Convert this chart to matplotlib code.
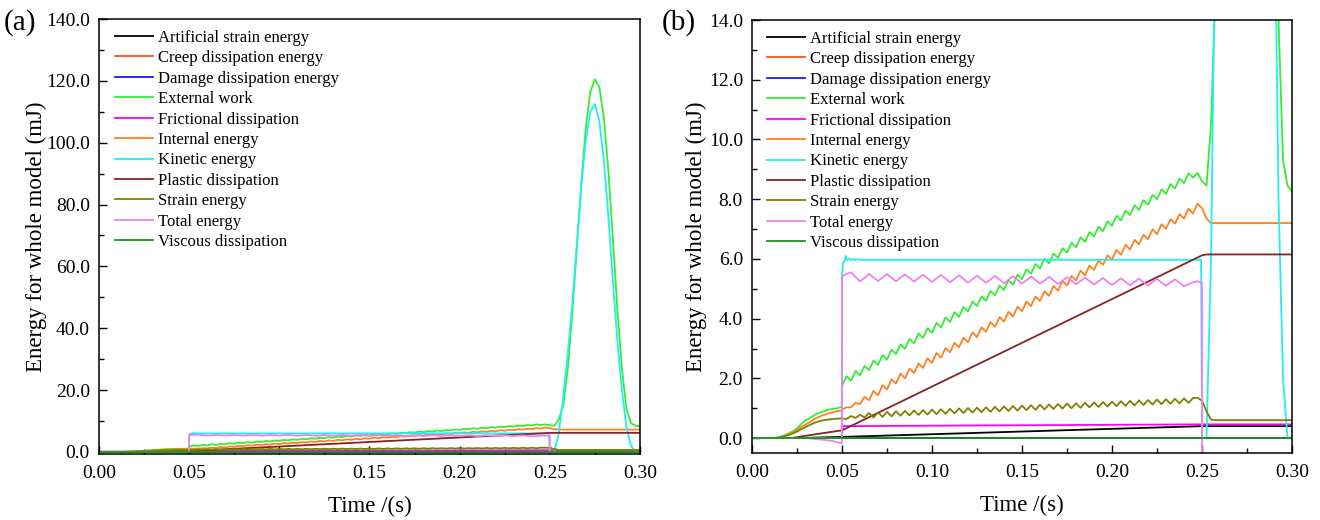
import matplotlib
matplotlib.use("Agg")
import matplotlib.pyplot as plt
from matplotlib.ticker import MultipleLocator, FormatStrFormatter

plt.rcParams['font.family'] = ['Liberation Serif', 'DejaVu Serif']
plt.rcParams['mathtext.fontset'] = 'stix'

# ---------------- data (time in s, energy in mJ) ----------------
t_pre = [0.0, 0.0125, 0.0150, 0.0175, 0.0200, 0.0225, 0.0250, 0.0275, 0.0300,
         0.0325, 0.0350, 0.0375, 0.0400, 0.0425, 0.0450, 0.0475, 0.0499]
t_mid = [0.0500, 0.0525, 0.0550, 0.0575, 0.0600, 0.0625, 0.0650, 0.0675, 0.0700,
         0.0725, 0.0750, 0.0775, 0.0800, 0.0825, 0.0850, 0.0875, 0.0900, 0.0925,
         0.0950, 0.0975, 0.1000, 0.1025, 0.1050, 0.1075, 0.1100, 0.1125, 0.1150,
         0.1175, 0.1200, 0.1225, 0.1250, 0.1275, 0.1300, 0.1325, 0.1350, 0.1375,
         0.1400, 0.1425, 0.1450, 0.1475, 0.1500, 0.1525, 0.1550, 0.1575, 0.1600,
         0.1625, 0.1650, 0.1675, 0.1700, 0.1725, 0.1750, 0.1775, 0.1800, 0.1825,
         0.1850, 0.1875, 0.1900, 0.1925, 0.1950, 0.1975, 0.2000, 0.2025, 0.2050,
         0.2075, 0.2100, 0.2125, 0.2150, 0.2175, 0.2200, 0.2225, 0.2250, 0.2275,
         0.2300, 0.2325, 0.2350, 0.2375, 0.2400, 0.2425, 0.2450, 0.2475, 0.2500]
t_post = [0.2525, 0.2550, 0.2575, 0.2600, 0.2625, 0.2650, 0.2675, 0.2700, 0.2725,
          0.2750, 0.2775, 0.2800, 0.2825, 0.2850, 0.2875, 0.2900, 0.2925, 0.2950,
          0.2975, 0.3000]

# External work
ext_pre = [0, 0, 0.03, 0.08, 0.15, 0.22, 0.33, 0.48, 0.60, 0.68, 0.78, 0.85,
           0.90, 0.95, 0.98, 1.00, 1.05]
ext_mid = [1.75, 2.07, 1.92, 2.25, 2.10, 2.42, 2.27, 2.60, 2.45, 2.78, 2.63, 2.96,
           2.81, 3.14, 2.99, 3.32, 3.17, 3.50, 3.35, 3.68, 3.53, 3.86, 3.71, 4.04,
           3.89, 4.22, 4.06, 4.39, 4.24, 4.57, 4.42, 4.75, 4.60, 4.93, 4.78, 5.11,
           4.96, 5.29, 5.14, 5.47, 5.32, 5.65, 5.50, 5.83, 5.68, 6.01, 5.85, 6.18,
           6.03, 6.36, 6.21, 6.54, 6.39, 6.72, 6.57, 6.90, 6.75, 7.08, 6.93, 7.26,
           7.11, 7.44, 7.29, 7.62, 7.47, 7.80, 7.64, 7.97, 7.82, 8.15, 8.00, 8.33,
           8.18, 8.51, 8.36, 8.69, 8.54, 8.87, 8.72, 8.88, 8.60]
ext_post = [8.45, 10.5, 15.0, 27.0, 45.0, 66.0, 87.0, 105.0, 116.5, 120.5, 118.0,
            108.0, 91.0, 69.0, 46.0, 27.0, 14.0, 9.3, 8.45, 8.25]

# Internal energy
int_pre = [0, 0, 0.02, 0.06, 0.12, 0.18, 0.27, 0.38, 0.46, 0.55, 0.65, 0.72,
           0.78, 0.83, 0.87, 0.90, 0.93]
int_mid = [0.95, 1.03, 1.03, 1.18, 1.14, 1.38, 1.27, 1.58, 1.43, 1.77, 1.63, 1.97,
           1.83, 2.16, 2.00, 2.33, 2.18, 2.50, 2.35, 2.67, 2.52, 2.85, 2.69, 3.02,
           2.87, 3.19, 3.04, 3.36, 3.21, 3.54, 3.38, 3.71, 3.56, 3.88, 3.73, 4.05,
           3.90, 4.23, 4.07, 4.40, 4.25, 4.57, 4.42, 4.74, 4.59, 4.92, 4.76, 5.09,
           4.94, 5.26, 5.11, 5.43, 5.28, 5.61, 5.45, 5.78, 5.63, 5.95, 5.80, 6.12,
           5.97, 6.30, 6.14, 6.47, 6.32, 6.64, 6.49, 6.81, 6.66, 6.99, 6.83, 7.16,
           7.01, 7.33, 7.18, 7.50, 7.35, 7.68, 7.52, 7.85, 7.70]
int_post = [7.35, 7.20, 7.20, 7.20, 7.20, 7.20, 7.20, 7.20, 7.20, 7.20, 7.20,
            7.20, 7.20, 7.20, 7.20, 7.20, 7.20, 7.20, 7.20, 7.20]

# Strain energy
str_pre = [0, 0, 0.02, 0.05, 0.10, 0.15, 0.22, 0.30, 0.38, 0.45, 0.52, 0.57,
           0.60, 0.62, 0.64, 0.65, 0.66]
str_mid = [0.66, 0.64, 0.74, 0.675, 0.78, 0.695, 0.84, 0.69, 0.86, 0.71, 0.88, 0.73,
           0.90, 0.747, 0.913, 0.76, 0.927, 0.774, 0.94, 0.787, 0.954, 0.80, 0.967,
           0.814, 0.98, 0.827, 0.994, 0.841, 1.007, 0.854, 1.021, 0.867, 1.034,
           0.881, 1.047, 0.894, 1.061, 0.908, 1.074, 0.921, 1.088, 0.934, 1.101,
           0.948, 1.115, 0.961, 1.128, 0.975, 1.141, 0.988, 1.155, 1.001, 1.168,
           1.015, 1.182, 1.028, 1.195, 1.042, 1.208, 1.055, 1.222, 1.069, 1.235,
           1.082, 1.249, 1.095, 1.262, 1.109, 1.275, 1.122, 1.289, 1.136, 1.302,
           1.149, 1.316, 1.162, 1.329, 1.176, 1.342, 1.35, 1.25]
str_post = [0.90, 0.62, 0.60, 0.60, 0.60, 0.60, 0.60, 0.60, 0.60, 0.60, 0.60,
            0.60, 0.60, 0.60, 0.60, 0.60, 0.60, 0.60, 0.60, 0.60]

# Total energy
tot_t_pre = [0.0, 0.030, 0.035, 0.040, 0.045, 0.048, 0.0499]
tot_pre = [0, 0, -0.03, -0.06, -0.10, -0.15, -0.18]
tot_mid = [5.42, 5.50, 5.55, 5.40, 5.25, 5.36, 5.50, 5.38, 5.26, 5.38, 5.49, 5.37,
           5.25, 5.37, 5.48, 5.36, 5.24, 5.36, 5.47, 5.35, 5.23, 5.35, 5.46, 5.34,
           5.22, 5.33, 5.45, 5.33, 5.21, 5.32, 5.44, 5.32, 5.20, 5.31, 5.43, 5.31,
           5.19, 5.30, 5.42, 5.30, 5.18, 5.29, 5.41, 5.29, 5.17, 5.28, 5.40, 5.28,
           5.16, 5.27, 5.39, 5.27, 5.15, 5.26, 5.37, 5.26, 5.14, 5.25, 5.36, 5.24,
           5.13, 5.24, 5.35, 5.23, 5.12, 5.23, 5.34, 5.22, 5.11, 5.22, 5.33, 5.21,
           5.10, 5.21, 5.32, 5.20, 5.09, 5.15, 5.22, 5.25, 5.20]
tot_t_post = [0.2500, 0.3000]
tot_post = [-2.0, -2.0]

# Kinetic energy
kin_t = [0.0, 0.0499, 0.0500, 0.0505, 0.0510, 0.0515, 0.0520, 0.0525, 0.0530,
         0.0540, 0.0550, 0.0560, 0.0570, 0.0580, 0.0600, 0.2495, 0.2500]
kin_v = [0, 0, 5.45, 5.85, 5.90, 5.95, 6.10, 5.98, 5.96, 6.02, 5.95, 6.00, 5.95,
         5.99, 5.97, 5.97, 0.0]
kin_post = [0.0, 6.0, 18.0, 32.0, 48.0, 67.0, 86.0, 101.0, 110.0, 112.5, 107.0,
            94.0, 76.0, 55.0, 36.0, 20.0, 8.0, 2.0, 0.0, 0.0]

# Plastic dissipation
pla_t = [0.0, 0.022, 0.030, 0.040, 0.050, 0.250, 0.2525, 0.300]
pla_v = [0, 0, 0.08, 0.17, 0.26, 6.12, 6.15, 6.15]

# Frictional dissipation
fri_t = [0.0, 0.0499, 0.0500, 0.0505, 0.2500, 0.3000]
fri_v = [0, 0, 0.20, 0.40, 0.46, 0.46]

# Artificial strain energy
art_t = [0.0, 0.025, 0.050, 0.250, 0.300]
art_v = [0, 0, 0.04, 0.40, 0.40]

# Zero series
zero_t = [0.0, 0.3]
zero_v = [0.0, 0.0]

names = ["Artificial strain energy", "Creep dissipation energy",
         "Damage dissipation energy", "External work", "Frictional dissipation",
         "Internal energy", "Kinetic energy", "Plastic dissipation",
         "Strain energy", "Total energy", "Viscous dissipation"]
colors = ["#000000", "#FF4F1F", "#1A1AFF", "#33EE33", "#FF00FF", "#FF8020",
          "#22F0F0", "#882222", "#808000", "#F080F0", "#119911"]

series = [
    (art_t, art_v),
    (zero_t, zero_v),
    (zero_t, zero_v),
    (t_pre + t_mid + t_post, ext_pre + ext_mid + ext_post),
    (fri_t, fri_v),
    (t_pre + t_mid + t_post, int_pre + int_mid + int_post),
    (kin_t + t_post, kin_v + kin_post),
    (pla_t, pla_v),
    (t_pre + t_mid + t_post, str_pre + str_mid + str_post),
    (tot_t_pre + t_mid + tot_t_post, tot_pre + tot_mid + tot_post),
    (zero_t, zero_v),
]

fig = plt.figure(figsize=(13.2, 5.2), dpi=100)
ax_a = fig.add_axes([0.0750, 0.1269, 0.4098, 0.8365])
ax_b = fig.add_axes([0.5697, 0.1288, 0.4091, 0.8327])

panels = [(ax_a, (-0.7, 140), 20, 10, "(a)", 0.003, -0.096, 0.0296),
          (ax_b, (-0.5, 14), 2, 1, "(b)", 0.5010, -0.083, 0.028)]

for ax, ylim, maj, mnr, tag, tx, ylab_x, leg_x in panels:
    for (t, v), c, n in zip(series, colors, names):
        ax.plot(t, v, color=c, lw=1.3, label=n)
    ax.set_xlim(0, 0.3)
    ax.set_ylim(*ylim)
    ax.xaxis.set_major_locator(MultipleLocator(0.05))
    ax.xaxis.set_minor_locator(MultipleLocator(0.025))
    ax.yaxis.set_major_locator(MultipleLocator(maj))
    ax.yaxis.set_minor_locator(MultipleLocator(mnr))
    ax.xaxis.set_major_formatter(FormatStrFormatter('%.2f'))
    ax.yaxis.set_major_formatter(FormatStrFormatter('%.1f'))
    ax.tick_params(which='major', direction='in', length=6, width=1.0,
                   labelsize=14, top=False, right=False)
    ax.tick_params(axis='x', which='major', pad=8)
    ax.tick_params(axis='y', which='major', pad=6.5)
    ax.tick_params(which='minor', direction='in', length=3.5, width=1.0,
                   top=False, right=False)
    for s in ax.spines.values():
        s.set_linewidth(1.1)
    ax.set_xlabel("Time /(s)", fontsize=16.5)
    ax.set_ylabel("Energy for whole model (mJ)", fontsize=16.5)
    ax.xaxis.set_label_coords(0.5, -0.097)
    ax.yaxis.set_label_coords(ylab_x, 0.5)
    ax.legend(loc='upper left', bbox_to_anchor=(leg_x, 0.975), frameon=False,
              fontsize=12, handlelength=2.3, handletextpad=0.3,
              labelspacing=0.265, borderaxespad=0, borderpad=0)
    fig.text(tx, 1 - 23 / 520, tag, fontsize=21, va='center', ha='left')

fig.savefig("out.png", dpi=100)
